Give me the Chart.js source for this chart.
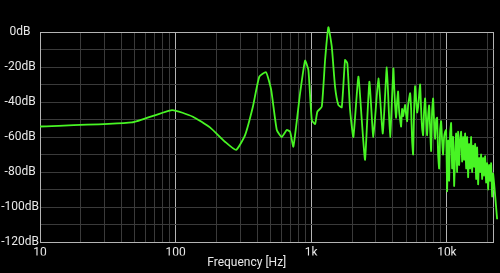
<!DOCTYPE html>
<html>
<head>
<meta charset="utf-8">
<script src="https://cdn.jsdelivr.net/npm/chart.js@4.4.0/dist/chart.umd.min.js"></script>
<style>
  html, body { margin: 0; padding: 0; background: #000; }
  canvas { display: block; }
</style>
</head>
<body>
<canvas id="spectrum" width="500" height="273"></canvas>
<script>
// frequency (Hz) / level (dB)
var freqHz = [
    10, 47.7, 94, 134, 179, 231, 279, 325, 371, 414,
    464, 506, 557, 606, 660, 698, 738, 827, 900, 952,
    1009, 1067, 1109, 1195, 1264, 1337, 1416, 1497, 1583, 1678,
    1774, 1845, 1932, 2043, 2224, 2355, 2492, 2681, 2868, 3124,
    3368, 3604, 3811, 4030,
    4079, 4149, 4220, 4292, 4366, 4441, 4517, 4594, 4673, 4753,
    4834, 4917, 5001, 5087, 5174, 5263, 5353, 5445, 5538, 5633,
    5729, 5828, 5927, 6029, 6132, 6237, 6344, 6453, 6563, 6676,
    6790, 6906, 7025, 7145, 7267, 7392, 7518, 7647, 7778, 7911,
    8047, 8185, 8325, 8467, 8612, 8760, 8910, 9062, 9218, 9376,
    9536, 9700, 9866, 10035, 10207, 10382, 10559, 10740, 10924, 11111,
    11301, 11495, 11692, 11892, 12095, 12303, 12513, 12727, 12945, 13167,
    13392, 13622, 13855, 14092, 14333, 14579, 14828, 15082, 15340, 15603,
    15870, 16142, 16418, 16699, 16985, 17276, 17572, 17873, 18179, 18490,
    18807, 19129, 19456, 19789, 20128, 20473, 20823, 21180, 21542, 21911,
    23451
];
var levelDb = [
    -54, -51.7, -44.6, -48.4, -54.5, -62.7, -67.4, -58.9, -42.7, -25.5,
    -23, -33, -56, -60, -56, -57, -65.5, -35, -16.4, -21.7,
    -50.3, -52.6, -45.5, -42.7, -16, 2.7, -8.4, -31.2, -41.7, -43,
    -16, -18, -44.6, -60, -25.5, -50, -73, -28.4, -60, -26.5,
    -58, -20.2, -60, -20.8,
    -30, -42, -49, -40, -34, -45, -50, -54, -44, -48,
    -45, -41.7, -47, -51, -42, -38, -35, -44, -62, -70,
    -45, -31, -38, -46, -43, -36, -30, -44, -55, -59,
    -45, -38, -50, -59, -48, -42, -55, -68, -45, -38,
    -52, -61, -50, -49, -70, -78, -56, -51, -62, -70,
    -60, -57, -56, -91, -62, -85, -58, -52, -78, -60,
    -88, -70, -58, -80, -57, -76, -62, -57, -74, -60,
    -73, -58, -78, -60, -83, -64, -78, -60, -80, -65,
    -77, -64, -84, -66, -87, -72, -80, -70, -84, -72,
    -82, -71, -86, -75, -90, -76, -85, -75, -94, -81,
    -107
];

var xTickValues = [
    10, 20, 30, 40, 50, 60, 70, 80, 90,
    100, 200, 300, 400, 500, 600, 700, 800, 900,
    1000, 2000, 3000, 4000, 5000, 6000, 7000, 8000, 9000,
    10000, 20000, 22050
];
var xTickLabels = {10: '10', 100: '100', 1000: '1k', 10000: '10k'};
var xMajor = [10, 100, 1000, 10000, 22050];

var points = freqHz.map(function(f, i) {
    return {x: f, y: levelDb[i]};
});

var labelFont = {family: 'Roboto', size: 12};

var chart = new Chart(document.getElementById('spectrum').getContext('2d'), {
    type: 'line',
    data: {
        datasets: [{
            data: points,
            borderColor: 'rgb(72,245,36)',
            borderWidth: 1.8,
            pointRadius: 0,
            tension: 0.15,
            clip: false
        }]
    },
    options: {
        responsive: false,
        animation: false,
        layout: {padding: {top: 32, right: 6.5, left: 0, bottom: 0}},
        plugins: {
            legend: {display: false},
            tooltip: {enabled: false},
            title: {
                display: true,
                text: 'Frequency [Hz]',
                position: 'bottom',
                color: '#e8e8e8',
                font: {family: 'Roboto', size: 12, weight: 'normal'},
                padding: {top: 0, bottom: 3}
            }
        },
        scales: {
            x: {
                type: 'logarithmic',
                min: 10,
                max: 22050,
                afterBuildTicks: function(scale) {
                    scale.ticks = xTickValues.map(function(v) { return {value: v}; });
                },
                afterFit: function(scale) { scale.height = 13.6; },
                ticks: {
                    autoSkip: false,
                    maxRotation: 0,
                    padding: 3.5,
                    color: '#e8e8e8',
                    font: labelFont,
                    callback: function(value) { return xTickLabels[value] || ''; }
                },
                grid: {
                    drawTicks: false,
                    color: function(ctx) {
                        return xMajor.indexOf(ctx.tick.value) >= 0 ? '#b4b4b4' : '#3a3a3a';
                    }
                },
                border: {color: '#b4b4b4'}
            },
            y: {
                min: -120,
                max: 0,
                afterFit: function(scale) { scale.width = 40; },
                ticks: {
                    stepSize: 10,
                    padding: 1,
                    crossAlign: 'center',
                    color: '#e8e8e8',
                    font: labelFont,
                    callback: function(value) { return value % 20 === 0 ? value + 'dB' : ''; }
                },
                grid: {
                    drawTicks: false,
                    color: function(ctx) {
                        return ctx.tick.value === 0 ? '#b4b4b4' : '#3a3a3a';
                    }
                },
                border: {color: '#b4b4b4'}
            }
        }
    }
});
</script>
</body>
</html>
